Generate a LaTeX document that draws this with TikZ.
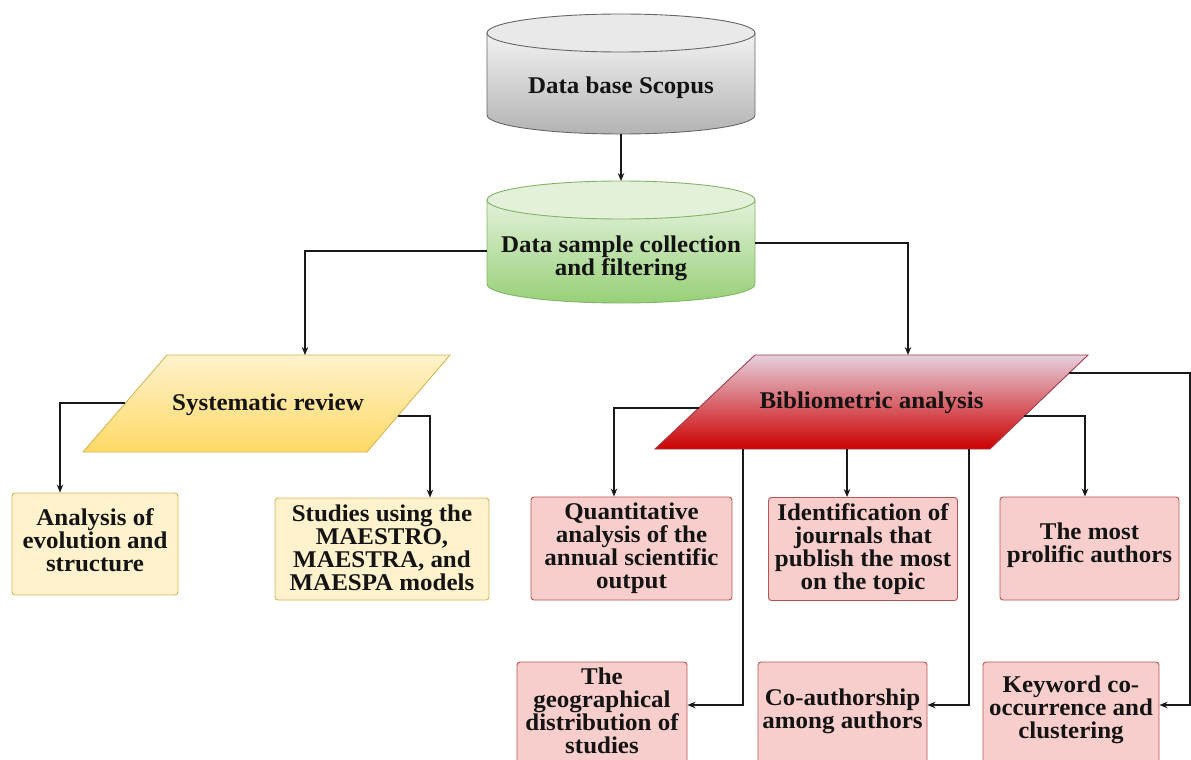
\documentclass[tikz,border=0pt]{standalone}
\usepackage{fontspec}
\setmainfont{Liberation Serif}[FakeStretch=1.04]
\usetikzlibrary{arrows.meta}
\definecolor{pinkfill}{HTML}{F8CECC}
\definecolor{pinkline}{HTML}{B85450}
\definecolor{yelfill}{HTML}{FFF2CC}
\definecolor{yelline}{HTML}{D6B656}
\definecolor{yeldeep}{HTML}{FFD966}
\definecolor{grnline}{HTML}{82B366}
\definecolor{grntop}{HTML}{E3F1DB}
\definecolor{grnbot}{HTML}{97D077}
\definecolor{grytop}{HTML}{F2F2F2}
\definecolor{grybot}{HTML}{B3B3B3}
\definecolor{gryline}{HTML}{666666}
\definecolor{redtop}{HTML}{E6D0DE}
\definecolor{redbot}{HTML}{CC0000}
\definecolor{redline}{HTML}{A23B4C}
\begin{document}
\begin{tikzpicture}[x=1pt,y=-1pt,
  conn/.style={draw=black!90, line width=1.4pt},
  arr/.style={conn, -{Stealth[length=8pt,width=6.5pt]}},
  lbl/.style={font=\fontsize{24}{23}\selectfont\bfseries, align=center, text=black!92, inner sep=0pt},
  pinkbox/.style={draw=pinkline, fill=pinkfill, rounded corners=3pt, line width=0.9pt, inner sep=0pt},
  yelbox/.style={draw=yelline, fill=yelfill, rounded corners=3pt, line width=0.9pt, inner sep=0pt},
]
\useasboundingbox (0,0) rectangle (1191,760);

% ---- database cylinder
\shade[top color=grytop, bottom color=grybot, draw=gryline, line width=0.9pt]
  (487,33) -- (487,115) arc[start angle=180, end angle=0, x radius=134, y radius=19] -- (755,33) -- cycle;
\draw[fill=grytop!85!grybot, draw=gryline, line width=0.9pt] (621,33) ellipse[x radius=134, y radius=19];
\node[lbl] (scopus) at (621,88) {Data base Scopus};
\coordinate (scopusB) at (621,134);

% ---- sample collection cylinder
\shade[top color=grntop, bottom color=grnbot, draw=grnline, line width=0.9pt]
  (487,200) -- (487,284) arc[start angle=180, end angle=0, x radius=134, y radius=19] -- (755,200) -- cycle;
\draw[fill=grntop, draw=grnline, line width=0.9pt] (621,200) ellipse[x radius=134, y radius=19];
\node[lbl] (sample) at (621,258) {Data sample collection\\and filtering};
\coordinate (sampleT) at (621,181);
\coordinate (sampleL) at (487,251);
\coordinate (sampleR) at (755,243);

% ---- systematic review
\shade[top color=yelfill, bottom color=yeldeep, draw=yelline, line width=0.9pt]
  (167,355) -- (450,355) -- (367,452) -- (83,452) -- cycle;
\node[lbl] (sysrev) at (268,405) {Systematic review};
\coordinate (sysT) at (305,355);
\coordinate (sysL) at (125.4,403);
\coordinate (sysR) at (397.8,416);

% ---- bibliometric analysis
\shade[top color=redtop, bottom color=redbot, draw=redline, line width=0.9pt]
  (755,355) -- (1088,355) -- (990,449) -- (655,449) -- cycle;
\node[lbl] (biblio) at (871.5,403) {Bibliometric analysis};
\coordinate (bibT) at (908,355);
\coordinate (bibL) at (698.6,408);
\coordinate (bibRa) at (1069.3,373);
\coordinate (bibRb) at (1024.4,416);
\coordinate (bibB1) at (743,449);
\coordinate (bibB2) at (847,449);
\coordinate (bibB3) at (969,449);
\coordinate (bibTurn) at (1190,705);

% ---- review outputs
\node[yelbox, minimum width=166, minimum height=102] (evol) at (95,544) {};
\node[lbl] (evolT) at (95,540) {Analysis of\\evolution and\\structure};
\node[yelbox, minimum width=214, minimum height=102] (maes) at (382,549) {};
\node[lbl] (maesT) at (382,548) {Studies using the\\MAESTRO,\\MAESTRA, and\\MAESPA models};

% ---- bibliometric outputs, first row
\node[pinkbox, minimum width=201, minimum height=103] (quant) at (631.5,548.5) {};
\node[lbl] (quantT) at (631.5,548.5) {Quantitative\\analysis of the\\annual scientific\\output};
\node[pinkbox, minimum width=189, minimum height=103] (ident) at (863,549) {};
\node[lbl] (identT) at (863,549) {Identification of\\journals that\\publish the most\\on the topic};
\node[pinkbox, minimum width=179, minimum height=103] (prolif) at (1089.5,548.5) {};
\node[lbl] (prolifT) at (1089.5,545) {The most\\prolific authors};

% ---- bibliometric outputs, second row
\node[pinkbox, minimum width=170, minimum height=130] (geo) at (602,727) {};
\node[lbl] (geoT) at (602,711) {The\\geographical\\distribution of\\studies};
\node[pinkbox, minimum width=169, minimum height=130] (coauth) at (842.5,727) {};
\node[lbl] (coauthT) at (842.5,711) {Co-authorship\\among authors};
\node[pinkbox, minimum width=176, minimum height=130] (keyw) at (1071,727) {};
\node[lbl] (keywT) at (1071,710) {Keyword co-\\occurrence and\\clustering};

% ---- connectors
\draw[arr] (scopusB) -- (sampleT);
\draw[arr] (sampleL) -| (sysT);
\draw[arr] (sampleR) -| (bibT);
\draw[arr] (sysL) -| ([xshift=-35pt]evol.north);
\draw[arr] (sysR) -| ([xshift=48pt]maes.north);
\draw[arr] (bibL) -| ([xshift=-17.5pt]quant.north);
\draw[arr] (bibB2) -- (bibB2 |- ident.north);
\draw[arr] (bibRb) -| ([xshift=-4.5pt]prolif.north);
\draw[arr] (bibB1) |- ([yshift=22pt]geo.east);
\draw[arr] (bibB3) |- ([yshift=22pt]coauth.east);
\draw[arr] (bibRa) -| (bibTurn) -- ([yshift=22pt]keyw.east);
\end{tikzpicture}
\end{document}
